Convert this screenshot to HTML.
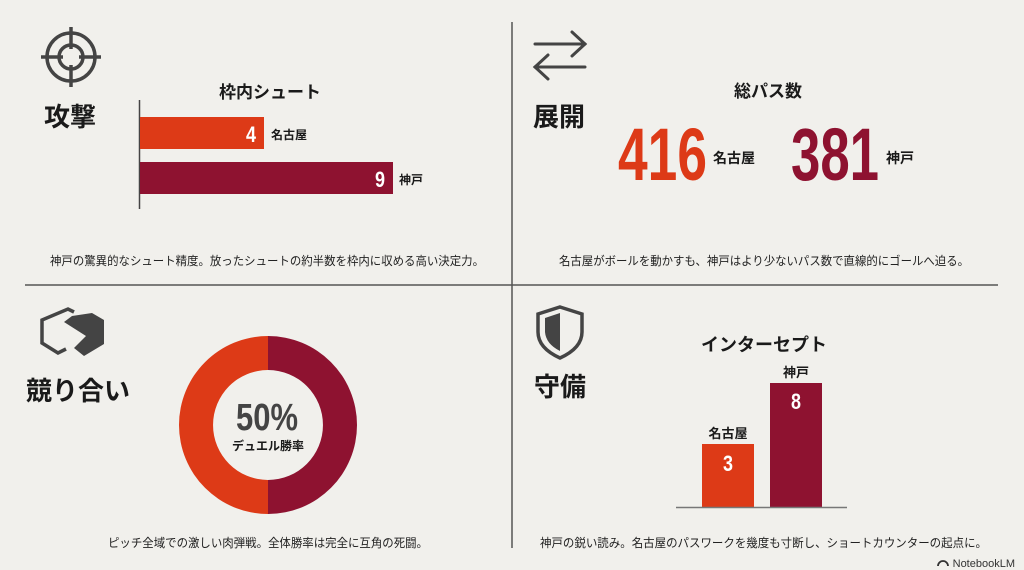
<!DOCTYPE html>
<html><head><meta charset="utf-8"><style>
html,body{margin:0;padding:0;background:#F1F0EC;}
svg{display:block;}
text{font-family:"Liberation Sans","Noto Sans CJK JP",sans-serif;}
.h{font-weight:bold;fill:#1a1a1a;}
.n{font-family:"Liberation Sans Narrow","Liberation Sans",sans-serif;font-weight:bold;}
</style></head><body>
<svg width="1024" height="570" viewBox="0 0 1024 570" xmlns="http://www.w3.org/2000/svg">
<rect width="1024" height="570" fill="#F1F0EC"/>
<line x1="512" y1="22" x2="512" y2="548" stroke="#555" stroke-width="1.5"/>
<line x1="25" y1="285" x2="998" y2="285" stroke="#555" stroke-width="1.5"/>

<g stroke="#444" stroke-width="3.5" fill="none">
<circle cx="71" cy="57" r="24"/><circle cx="71" cy="57" r="12"/>
<line x1="71" y1="27" x2="71" y2="49"/><line x1="71" y1="65" x2="71" y2="87"/>
<line x1="41" y1="57" x2="63" y2="57"/><line x1="79" y1="57" x2="101" y2="57"/>
</g>
<text x="44" y="126" class="h" font-size="26">攻撃</text>
<text x="270" y="98" class="h" font-size="17" text-anchor="middle">枠内シュート</text>
<line x1="139.5" y1="100" x2="139.5" y2="209" stroke="#444" stroke-width="1.5"/>
<rect x="140" y="117" width="124" height="32" fill="#DD3A17"/>
<rect x="140" y="162" width="253" height="32" fill="#8E1230"/>
<text x="246" y="142" class="n" font-size="22" fill="#fff" textLength="10" lengthAdjust="spacingAndGlyphs">4</text>
<text x="375" y="187" class="n" font-size="22" fill="#fff" textLength="10" lengthAdjust="spacingAndGlyphs">9</text>
<text x="271" y="139" class="h" font-size="12">名古屋</text>
<text x="399" y="184" class="h" font-size="12">神戸</text>
<text x="50" y="265" font-size="12" fill="#222" textLength="434" lengthAdjust="spacingAndGlyphs">神戸の驚異的なシュート精度。放ったシュートの約半数を枠内に収める高い決定力。</text>

<g stroke="#444" stroke-width="3" fill="none" stroke-linecap="round">
<line x1="535" y1="44" x2="585" y2="44"/><polyline points="572,32 585,44 572,56"/>
<line x1="535" y1="67" x2="585" y2="67"/><polyline points="548,55 535,67 548,79"/>
</g>
<text x="533" y="126" class="h" font-size="26">展開</text>
<text x="768" y="97" class="h" font-size="17" text-anchor="middle">総パス数</text>
<text x="618" y="180" class="n" font-size="74" fill="#DD3A17" textLength="89" lengthAdjust="spacingAndGlyphs">416</text>
<text x="791" y="180" class="n" font-size="74" fill="#8E1230" textLength="88" lengthAdjust="spacingAndGlyphs">381</text>
<text x="713" y="163" class="h" font-size="14">名古屋</text>
<text x="886" y="163" class="h" font-size="14">神戸</text>
<text x="559" y="265" font-size="12" fill="#222" textLength="410" lengthAdjust="spacingAndGlyphs">名古屋がボールを動かすも、神戸はより少ないパス数で直線的にゴールへ迫る。</text>

<polyline points="74,312 68,309 42,320 42,343 58,353 66,349" fill="none" stroke="#444" stroke-width="3.5"/>
<polygon points="72,316 92,313 104,320 104,344 84,356 74,348 86,336 64,322" fill="#444"/>
<text x="26" y="400" class="h" font-size="26">競り合い</text>
<path d="M268,336 A89,89 0 0 0 268,514 L268,480 A55,55 0 0 1 268,370 Z" fill="#DD3A17"/>
<path d="M268,336 A89,89 0 0 1 268,514 L268,480 A55,55 0 0 0 268,370 Z" fill="#8E1230"/>
<text x="236" y="430" class="n" font-size="38" fill="#444" textLength="62" lengthAdjust="spacingAndGlyphs">50%</text>
<text x="268" y="450" class="h" font-size="12" text-anchor="middle">デュエル勝率</text>
<text x="108" y="547" font-size="12" fill="#222" textLength="320" lengthAdjust="spacingAndGlyphs">ピッチ全域での激しい肉弾戦。全体勝率は完全に互角の死闘。</text>

<path d="M560,307 L582,314 L582,332 Q582,348 560,358 Q538,348 538,332 L538,314 Z" fill="none" stroke="#444" stroke-width="3.5"/>
<path d="M560,313 L545,318 L545,332 Q546,344 560,351 Z" fill="#444"/>
<text x="534" y="396" class="h" font-size="26">守備</text>
<text x="764" y="351" class="h" font-size="18" text-anchor="middle">インターセプト</text>
<rect x="702" y="444" width="52" height="63" fill="#DD3A17"/>
<rect x="770" y="383" width="52" height="124" fill="#8E1230"/>
<line x1="676" y1="507.5" x2="847" y2="507.5" stroke="#777" stroke-width="1.5"/>
<text x="728" y="438" class="h" font-size="13" text-anchor="middle">名古屋</text>
<text x="796" y="377" class="h" font-size="13" text-anchor="middle">神戸</text>
<text x="723" y="471" class="n" font-size="22" fill="#fff" textLength="10" lengthAdjust="spacingAndGlyphs">3</text>
<text x="791" y="409" class="n" font-size="22" fill="#fff" textLength="10" lengthAdjust="spacingAndGlyphs">8</text>
<text x="540" y="547" font-size="12" fill="#222" textLength="447" lengthAdjust="spacingAndGlyphs">神戸の鋭い読み。名古屋のパスワークを幾度も寸断し、ショートカウンターの起点に。</text>
<text x="1015" y="567" font-size="11" fill="#333" text-anchor="end">NotebookLM</text>
<path d="M938,566 A5,5 0 0 1 948,566" fill="none" stroke="#333" stroke-width="1.8"/>
</svg>
</body></html>
